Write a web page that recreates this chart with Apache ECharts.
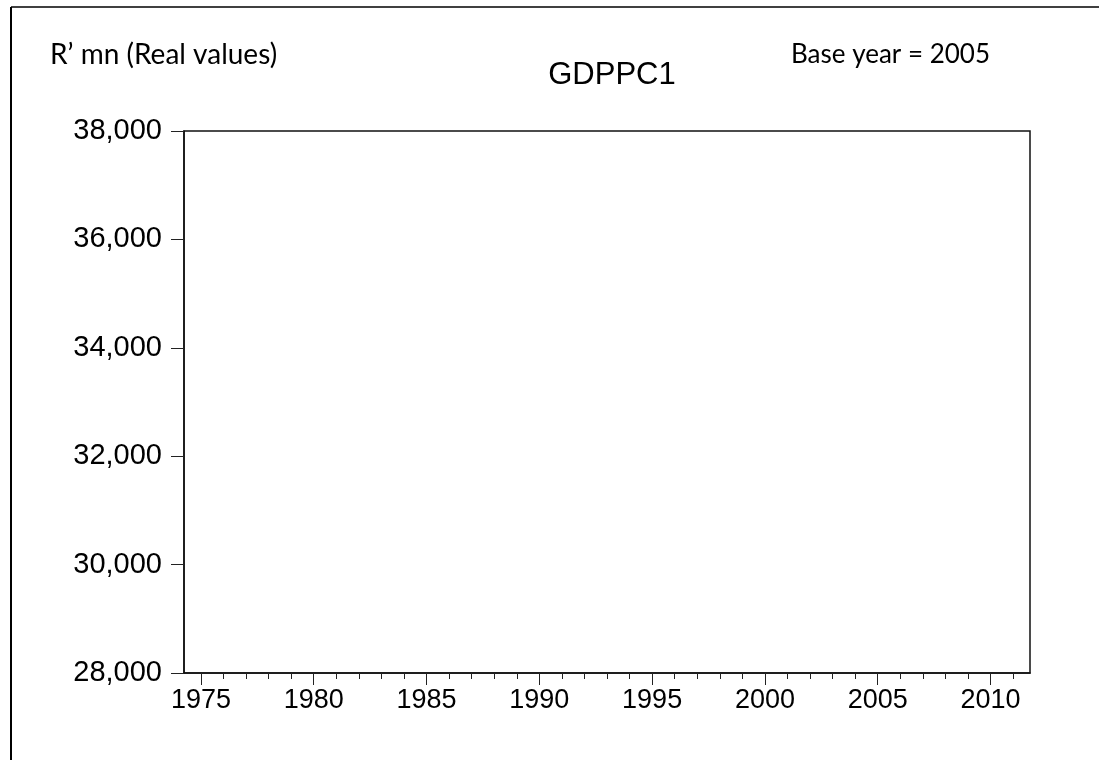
<!DOCTYPE html>
<html>
<head>
<meta charset="utf-8">
<script src="https://cdn.jsdelivr.net/npm/echarts@6/dist/echarts.min.js"></script>
<style>
  html, body { margin: 0; padding: 0; background: #fff; }
  #chart { width: 1099px; height: 760px; }
</style>
</head>
<body>
<div id="chart"></div>
<script>
// chart data (series is empty in the source picture)
var years = [];            // observation years
var gdppc1 = [];           // GDPPC1 values, none drawn
var majorYears = [1975, 1980, 1985, 1990, 1995, 2000, 2005, 2010];
var minorYears = [];
for (var y = 1975; y <= 2011; y++) { minorYears.push(y); }
var yMin = 28000, yMax = 38000, yStep = 2000;
var xMin = 1974.25, xMax = 2011.75;

var pairs = years.map(function (yr, i) { return [yr, gdppc1[i]]; });

var chart = echarts.init(document.getElementById('chart'));
var axisFont = 'Liberation Sans, Arial, sans-serif';
var noteFont = 'Lato, Carlito, sans-serif';

var option = {
  backgroundColor: '#fff',
  animation: false,
  title: [
    { text: 'R\u2019 mn (Real values)', left: 45, top: 36,
      textStyle: { fontFamily: noteFont, fontSize: 28, fontWeight: 'normal', color: '#000' } },
    { text: 'GDPPC1', left: 607, top: 55, textAlign: 'center',
      textStyle: { fontFamily: axisFont, fontSize: 31, fontWeight: 'normal', color: '#000' } },
    { text: 'Base year = 2005', right: 104, top: 37,
      textStyle: { fontFamily: noteFont, fontSize: 26, fontWeight: 'normal', color: '#000' } }
  ],
  graphic: [
    { type: 'line', shape: { x1: 11, y1: 7, x2: 11, y2: 760 }, style: { stroke: '#000', lineWidth: 2 } },
    { type: 'line', shape: { x1: 11, y1: 7, x2: 1099, y2: 7 }, style: { stroke: '#000', lineWidth: 1.5 } }
  ],
  grid: {
    left: 184, right: 69, top: 131, bottom: 87,
    show: true, borderColor: '#111', borderWidth: 1.5, backgroundColor: '#fff'
  },
  xAxis: [
    {
      type: 'value', min: xMin, max: xMax, position: 'bottom',
      axisLine: { show: true, lineStyle: { color: '#111', width: 1.5 } },
      splitLine: { show: false },
      axisTick: { show: true, customValues: majorYears, length: 12, inside: false,
        lineStyle: { color: '#222', width: 1 } },
      axisLabel: { show: true, customValues: majorYears, margin: 14,
        formatter: function (v) { return String(v); },
        fontFamily: axisFont, fontSize: 27, color: '#000' }
    },
    {
      type: 'value', min: xMin, max: xMax, position: 'bottom',
      axisLine: { show: false },
      splitLine: { show: false },
      axisTick: { show: true, customValues: minorYears, length: 6, inside: false,
        lineStyle: { color: '#222', width: 1 } },
      axisLabel: { show: false }
    }
  ],
  yAxis: {
    type: 'value', min: yMin, max: yMax, interval: yStep,
    axisLine: { show: true, lineStyle: { color: '#111', width: 1.5 } },
    splitLine: { show: false },
    axisTick: { show: true, length: 13, inside: false, lineStyle: { color: '#222', width: 1 } },
    axisLabel: { margin: 22, fontFamily: axisFont, fontSize: 29, color: '#000',
      formatter: function (v) { return v.toLocaleString('en-US'); } }
  },
  series: [
    { name: 'GDPPC1', type: 'line', data: pairs, showSymbol: false,
      lineStyle: { color: '#0000ff', width: 1.5 } }
  ]
};
chart.setOption(option);
</script>
</body>
</html>
